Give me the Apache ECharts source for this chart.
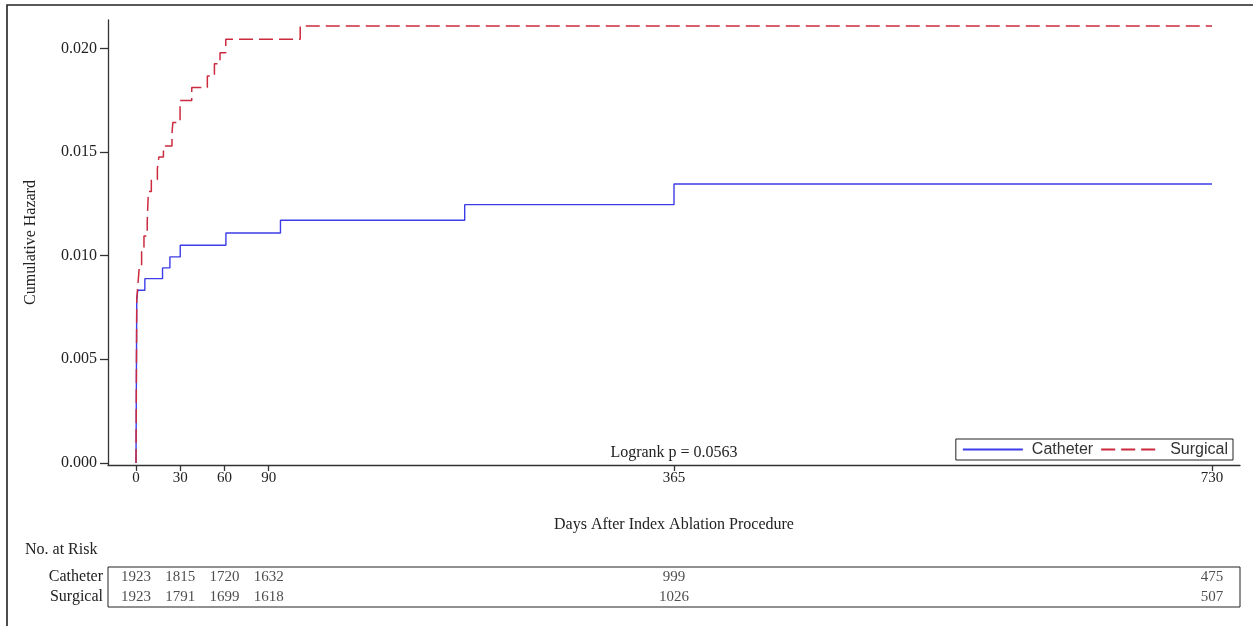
<!DOCTYPE html>
<html>
<head>
<meta charset="utf-8">
<script src="https://cdn.jsdelivr.net/npm/echarts@6/dist/echarts.min.js"></script>
<style>
  html, body { margin: 0; padding: 0; background: #fff; }
  #chart { width: 1253px; height: 626px; }
</style>
</head>
<body>
<div id="chart"></div>
<script>
// Cumulative hazard step curves (day, hazard)
const catheterDays = [0, 0.5, 1.2, 6, 18, 23, 30, 61, 98, 223, 365, 730];
const catheterHazard = [0, 0.00785, 0.00833, 0.00889, 0.00941, 0.00994, 0.0105, 0.01109, 0.01171, 0.01246, 0.01346, 0.01346];

const surgicalDays = [0, 0.5, 1.5, 2.3, 3.8, 5.4, 7.6, 8.0, 8.4, 10.4, 14.5, 15.5, 18.6, 24.4, 25, 29.9, 37.8, 48.4, 53.2, 57, 60.9, 111.4, 730];
const surgicalHazard = [0, 0.0079, 0.0088, 0.0095, 0.0104, 0.01095, 0.0116, 0.0124, 0.0131, 0.01367, 0.0142, 0.01476, 0.01529, 0.0159, 0.01642, 0.01749, 0.01811, 0.01867, 0.01926, 0.01979, 0.02044, 0.02108, 0.02108];

// Axis ticks
const xTicks = [0, 30, 60, 90, 365, 730];
const yTicks = [0, 0.005, 0.010, 0.015, 0.020];

// Number at risk table
const riskGroups = ['Catheter', 'Surgical'];
const riskDays = [0, 30, 60, 90, 365, 730];
const catheterAtRisk = [1923, 1815, 1720, 1632, 999, 475];
const surgicalAtRisk = [1923, 1791, 1699, 1618, 1026, 507];

const pValueText = 'Logrank p = 0.0563';

const SERIF = '"Liberation Serif", "Times New Roman", serif';
const SANS = '"Liberation Sans", Arial, sans-serif';
const AXIS_COLOR = '#333';
const TEXT_COLOR = '#222';

const pairs = (xs, ys) => xs.map((x, i) => [x, ys[i]]);

const chart = echarts.init(document.getElementById('chart'), null, { renderer: 'canvas' });

const xMin = -19, xMax = 749;

chart.setOption({
  animation: false,
  backgroundColor: '#fff',
  grid: [
    { left: 108, right: 13, top: 20, bottom: 161 },
    { left: 108, right: 13, top: 567, height: 40, show: true, borderColor: '#222', borderWidth: 1, backgroundColor: 'transparent' }
  ],
  xAxis: [
    {
      gridIndex: 0, type: 'value', min: xMin, max: xMax,
      name: 'Days After Index Ablation Procedure',
      nameLocation: 'middle', nameGap: 52,
      nameTextStyle: { fontFamily: SERIF, fontSize: 16, color: TEXT_COLOR },
      axisLine: { show: true, onZero: false, lineStyle: { color: AXIS_COLOR, width: 1.3 } },
      axisTick: { show: true, length: 6, customValues: xTicks, lineStyle: { color: AXIS_COLOR, width: 1.3 } },
      axisLabel: { customValues: xTicks, margin: 6, fontFamily: SERIF, fontSize: 15, color: TEXT_COLOR },
      splitLine: { show: false }
    },
    {
      gridIndex: 1, type: 'value', min: xMin, max: xMax,
      axisLine: { show: false }, axisTick: { show: false }, axisLabel: { show: false }, splitLine: { show: false }
    }
  ],
  yAxis: [
    {
      gridIndex: 0, type: 'value', min: -0.0001, max: 0.02137,
      name: 'Cumulative Hazard',
      nameLocation: 'middle', nameGap: 69,
      nameTextStyle: { fontFamily: SERIF, fontSize: 16, color: TEXT_COLOR },
      axisLine: { show: true, onZero: false, lineStyle: { color: AXIS_COLOR, width: 1.3 } },
      axisTick: { show: true, length: 8, customValues: yTicks, lineStyle: { color: AXIS_COLOR, width: 1.3 } },
      axisLabel: {
        customValues: yTicks, margin: 11, fontFamily: SERIF, fontSize: 16, color: TEXT_COLOR,
        formatter: v => v.toFixed(3)
      },
      splitLine: { show: false }
    },
    {
      gridIndex: 1, type: 'category', data: riskGroups, inverse: true,
      axisLine: { show: false }, axisTick: { show: false }, splitLine: { show: false },
      axisLabel: { interval: 0, margin: 5, fontFamily: SERIF, fontSize: 16, color: TEXT_COLOR }
    }
  ],
  legend: {
    data: ['Catheter', 'Surgical'],
    right: 20, top: 439,
    orient: 'horizontal',
    itemWidth: 60, itemHeight: 12, itemGap: 7,
    padding: [2, 5, 2, 6],
    borderColor: '#222', borderWidth: 1,
    itemStyle: { opacity: 0 },
    textStyle: { fontFamily: SANS, fontSize: 16, color: '#333', padding: [0, 0, 0, 4], lineHeight: 17 }
  },
  series: [
    {
      name: 'Catheter', type: 'line', step: 'end', xAxisIndex: 0, yAxisIndex: 0,
      symbol: 'none', silent: true,
      lineStyle: { color: '#3c3ce8', width: 1.4 },
      itemStyle: { color: '#3c3ce8' },
      data: pairs(catheterDays, catheterHazard),
      z: 3
    },
    {
      name: 'Surgical', type: 'line', step: 'end', xAxisIndex: 0, yAxisIndex: 0,
      symbol: 'none', silent: true,
      lineStyle: { color: '#cc2a3e', width: 1.5, type: [14, 6] },
      itemStyle: { color: '#cc2a3e' },
      data: pairs(surgicalDays, surgicalHazard),
      z: 4
    },
    {
      name: 'riskCatheter', type: 'scatter', xAxisIndex: 1, yAxisIndex: 1,
      symbolSize: 1, silent: true, itemStyle: { color: 'rgba(0,0,0,0)' },
      label: { show: true, position: 'inside', formatter: p => p.value[2], fontFamily: SERIF, fontSize: 15, color: TEXT_COLOR },
      data: riskDays.map((d, i) => [d, riskGroups[0], catheterAtRisk[i]])
    },
    {
      name: 'riskSurgical', type: 'scatter', xAxisIndex: 1, yAxisIndex: 1,
      symbolSize: 1, silent: true, itemStyle: { color: 'rgba(0,0,0,0)' },
      label: { show: true, position: 'inside', formatter: p => p.value[2], fontFamily: SERIF, fontSize: 15, color: TEXT_COLOR },
      data: riskDays.map((d, i) => [d, riskGroups[1], surgicalAtRisk[i]])
    }
  ],
  graphic: [
    // page frame (top and left edges)
    { type: 'polyline', silent: true, shape: { points: [[7, 626], [7, 5], [1253, 5]] },
      style: { stroke: '#222', lineWidth: 1.6, fill: null } },
    { type: 'text', silent: true, x: 674, y: 453,
      style: { text: pValueText, textAlign: 'center', textVerticalAlign: 'middle', font: '16px ' + SERIF, fill: TEXT_COLOR } },
    { type: 'text', silent: true, x: 25, y: 550,
      style: { text: 'No. at Risk', textAlign: 'left', textVerticalAlign: 'middle', font: '16px ' + SERIF, fill: TEXT_COLOR } }
  ]
});
</script>
</body>
</html>
